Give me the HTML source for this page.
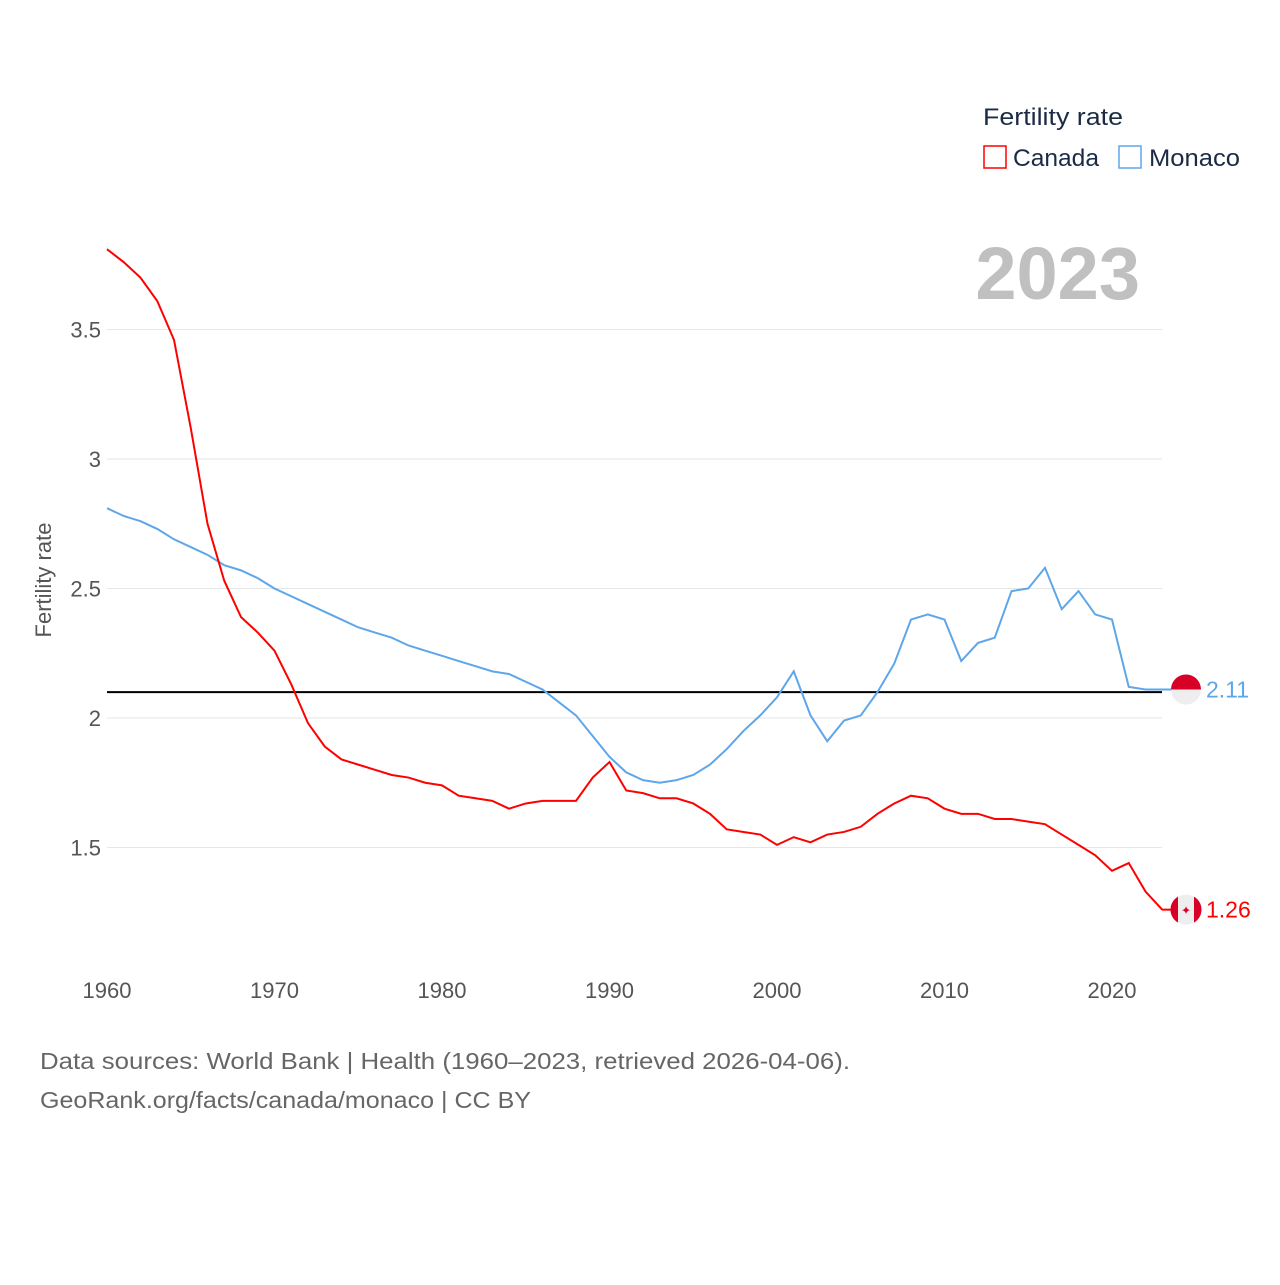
<!DOCTYPE html>
<html><head><meta charset="utf-8"><style>
body{margin:0;background:#fff;font-family:"Liberation Sans",sans-serif}
svg text{font-family:"Liberation Sans",sans-serif}
</style></head><body>
<svg id="chart" width="1280" height="1280">
<g id="grid"></g>
<g id="lines"></g>
<text x="1140" y="299" text-anchor="end" font-size="74" font-weight="bold" fill="#c0c0c0">2023</text>
<text x="983" y="125" font-size="24" fill="#1c2b45" textLength="140" lengthAdjust="spacingAndGlyphs">Fertility rate</text>
<g><rect x="984" y="146" width="22" height="22" fill="none" stroke="#f00" stroke-width="1.5"/><text x="1013" y="166" font-size="24" fill="#1c2b45" textLength="86" lengthAdjust="spacingAndGlyphs">Canada</text></g>
<g><rect x="1119" y="146" width="22" height="22" fill="none" stroke="#5ea6ea" stroke-width="1.5"/><text x="1149" y="166" font-size="24" fill="#1c2b45" textLength="91" lengthAdjust="spacingAndGlyphs">Monaco</text></g>
<text transform="translate(51,580) rotate(-90)" text-anchor="middle" font-size="22" fill="#555">Fertility rate</text>
<text x="40" y="1069" font-size="23" fill="#666" textLength="810" lengthAdjust="spacingAndGlyphs">Data sources: World Bank | Health (1960–2023, retrieved 2026-04-06).</text>
<text x="40" y="1108" font-size="23" fill="#666" textLength="491" lengthAdjust="spacingAndGlyphs">GeoRank.org/facts/canada/monaco | CC BY</text>
</svg>
<script>
const years=[];for(let y=1960;y<=2023;y++)years.push(y);
const canada=[3.81,3.76,3.70,3.61,3.46,3.12,2.75,2.53,2.39,2.33,2.26,2.13,1.98,1.89,1.84,1.82,1.80,1.78,1.77,1.75,1.74,1.70,1.69,1.68,1.65,1.67,1.68,1.68,1.68,1.77,1.83,1.72,1.71,1.69,1.69,1.67,1.63,1.57,1.56,1.55,1.51,1.54,1.52,1.55,1.56,1.58,1.63,1.67,1.70,1.69,1.65,1.63,1.63,1.61,1.61,1.60,1.59,1.55,1.51,1.47,1.41,1.44,1.33,1.26];
const monaco=[2.81,2.78,2.76,2.73,2.69,2.66,2.63,2.59,2.57,2.54,2.50,2.47,2.44,2.41,2.38,2.35,2.33,2.31,2.28,2.26,2.24,2.22,2.20,2.18,2.17,2.14,2.11,2.06,2.01,1.93,1.85,1.79,1.76,1.75,1.76,1.78,1.82,1.88,1.95,2.01,2.08,2.18,2.01,1.91,1.99,2.01,2.10,2.21,2.38,2.40,2.38,2.22,2.29,2.31,2.49,2.50,2.58,2.42,2.49,2.40,2.38,2.12,2.11,2.11];
const yTicks=[1.5,2,2.5,3,3.5];
const yTickLabels=["1.5","2","2.5","3","3.5"];
const xTicks=[1960,1970,1980,1990,2000,2010,2020];
const refLine=2.1;
const X=y=>107+(y-1960)*16.75;
const Y=v=>718-(v-2)*259;
const NS="http://www.w3.org/2000/svg";
const grid=document.getElementById('grid'),lines=document.getElementById('lines');
function mk(tag,attrs,parent,txt){const e=document.createElementNS(NS,tag);for(const k in attrs)e.setAttribute(k,attrs[k]);if(txt!==undefined)e.textContent=txt;parent.appendChild(e);return e;}
yTicks.forEach((t,i)=>{
 const l=mk('line',{x1:107,x2:1162,y1:Y(t),y2:Y(t),stroke:'#e6e6e6','stroke-width':1},grid);
 
 
 const tx=mk('text',{x:101,y:Y(t)+8,'text-anchor':'end','font-size':22,fill:'#555'},grid,yTickLabels[i]);
 
 
});
xTicks.forEach(t=>{
 const tx=mk('text',{x:X(t),y:998,'text-anchor':'middle','font-size':22,fill:'#555'},grid,String(t));
 
 
});
const ref=mk('line',{x1:107,x2:1162,y1:Y(refLine),y2:Y(refLine),stroke:'#000','stroke-width':2},lines);


function series(vals,color,name){
 const p=mk('polyline',{points:vals.map((v,i)=>X(years[i])+','+Y(v)).join(' '),fill:'none',stroke:color,'stroke-width':2},lines);
 
 
 const last=vals[vals.length-1],cy=Y(last);
 const g=mk('g',{},lines);
 
 
 mk('line',{x1:1162,x2:1172,y1:cy,y2:cy,stroke:color,'stroke-width':2},g);
 if(name==='monaco'){
  mk('path',{d:`M1171,${cy} a15,15 0 0 1 30,0 z`,fill:'#d80027'},g);
  mk('path',{d:`M1171,${cy} a15,15 0 0 0 30,0 z`,fill:'#eee'},g);
 }else{
  mk('circle',{cx:1186,cy:cy,r:15,fill:'#eee'},g);
  mk('path',{d:`M1178,${cy-13} a15,15 0 0 0 0,26 z`,fill:'#d80027'},g);
  mk('path',{d:`M1194,${cy-13} a15,15 0 0 1 0,26 z`,fill:'#d80027'},g);
  mk('text',{x:1186,y:cy+5,'text-anchor':'middle','font-size':12,fill:'#d80027'},g,'✦');
 }
 const t=mk('text',{x:1206,y:cy+8,'font-size':23,fill:color},lines,last.toFixed(2));
 
 
}
series(monaco,'#5ea6ea','monaco');
series(canada,'#f00','canada');
</script>
</body></html>
